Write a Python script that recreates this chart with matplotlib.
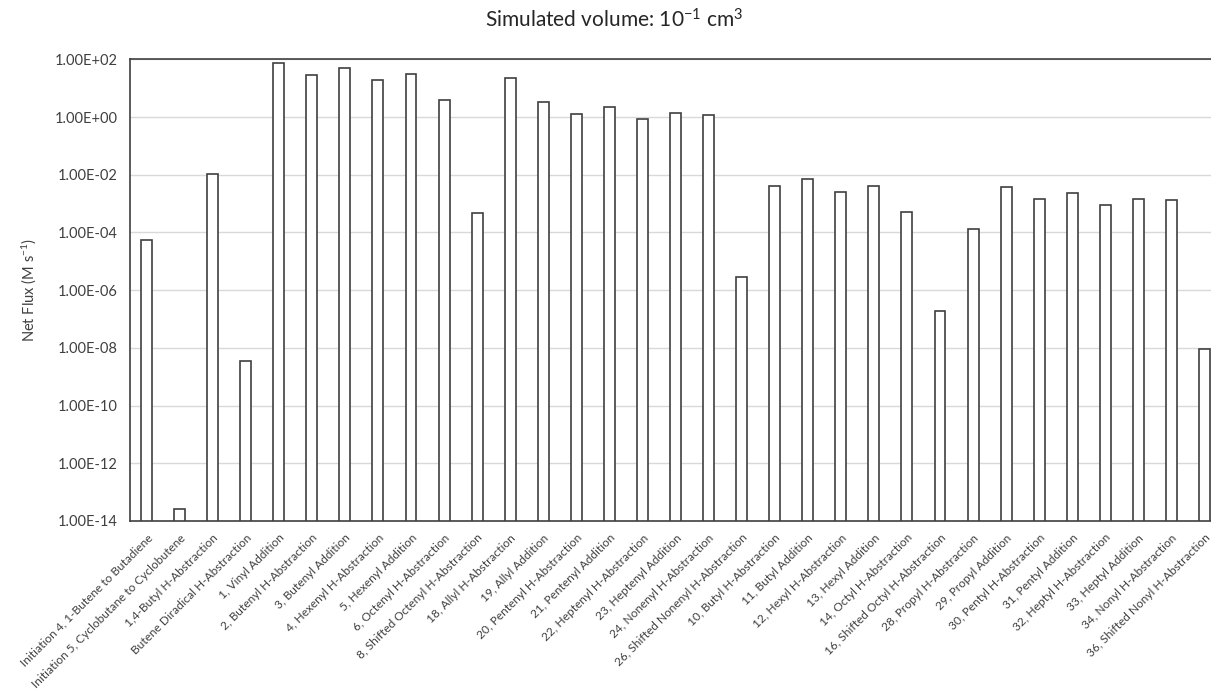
import matplotlib
matplotlib.use("Agg")
import matplotlib.pyplot as plt
import numpy as np

plt.rcParams['font.family'] = ['Lato', 'DejaVu Sans']
plt.rcParams['mathtext.default'] = 'regular'

categories = [
    "Initiation 4, 1-Butene to Butadiene",
    "Initiation 5, Cyclobutane to Cyclobutene",
    "1,4-Butyl H-Abstraction",
    "Butene Diradical H-Abstraction",
    "1, Vinyl Addition",
    "2, Butenyl H-Abstraction",
    "3, Butenyl Addition",
    "4, Hexenyl H-Abstraction",
    "5, Hexenyl Addition",
    "6, Octenyl H-Abstraction",
    "8, Shifted Octenyl H-Abstraction",
    "18, Allyl H-Abstraction",
    "19, Allyl Addition",
    "20, Pentenyl H-Abstraction",
    "21, Pentenyl Addition",
    "22, Heptenyl H-Abstraction",
    "23, Heptenyl Addition",
    "24, Nonenyl H-Abstraction",
    "26, Shifted Nonenyl H-Abstraction",
    "10, Butyl H-Abstraction",
    "11, Butyl Addition",
    "12, Hexyl H-Abstraction",
    "13, Hexyl Addition",
    "14, Octyl H-Abstraction",
    "16, Shifted Octyl H-Abstraction",
    "28, Propyl H-Abstraction",
    "29, Propyl Addition",
    "30, Pentyl H-Abstraction",
    "31, Pentyl Addition",
    "32, Heptyl H-Abstraction",
    "33, Heptyl Addition",
    "34, Nonyl H-Abstraction",
    "36, Shifted Nonyl H-Abstraction",
]

net_flux = [
    5.5e-5, 1.7e-14, 1.1e-2, 3.6e-9, 76, 29, 49, 19, 32, 4.0, 4.6e-4,
    23, 3.4, 1.3, 2.2, 0.83, 1.38, 1.17, 2.9e-6, 4.2e-3, 6.9e-3, 2.6e-3,
    4.2e-3, 5.2e-4, 1.85e-7, 1.3e-4, 3.8e-3, 1.4e-3, 2.3e-3, 8.7e-4,
    1.4e-3, 1.3e-3, 9.3e-9,
]

yticks = [1e2, 1e0, 1e-2, 1e-4, 1e-6, 1e-8, 1e-10, 1e-12, 1e-14]
ytick_labels = ["1.00E+02", "1.00E+00", "1.00E-02", "1.00E-04", "1.00E-06",
                "1.00E-08", "1.00E-10", "1.00E-12", "1.00E-14"]

W, H = 1211, 694
fig = plt.figure(figsize=(W / 100, H / 100), dpi=100)
left, right, top, bottom = 130, 1221, 59.3, 521
ax = fig.add_axes([left / W, (H - bottom) / H, (right - left) / W, (bottom - top) / H])

x = np.arange(len(categories))
ax.bar(x, net_flux, width=0.33, bottom=1e-14, color='white', edgecolor='#404040',
       linewidth=1.2, zorder=3)
ax.set_yscale('log')
ax.set_ylim(1e-14, 1e2)
ax.set_xlim(-0.5, len(categories) - 0.5)
ax.set_yticks(yticks)
ax.set_yticklabels(ytick_labels, fontsize=10.5, color='#404040')
ax.yaxis.set_minor_locator(matplotlib.ticker.NullLocator())
ax.set_xticks(x)
ax.set_xticklabels(categories, rotation=45, ha='right', rotation_mode='anchor',
                   fontsize=8.6, color='#404040')
ax.tick_params(axis='y', length=0, pad=9)
ax.tick_params(axis='x', length=0, pad=8)
ax.grid(axis='y', color='#d9d9d9', linewidth=1, zorder=0)
for s in ['left', 'bottom', 'top']:
    ax.spines[s].set_color('#404040')
    ax.spines[s].set_linewidth(1.2)
ax.spines['right'].set_visible(False)

ax.set_ylabel("Net Flux (M s$^{-1}$)", fontsize=10.5, color='#404040', labelpad=12)
fig.text(614 / W, 1 - 20 / H, "Simulated volume: 10$^{-1}$ cm$^{3}$", ha='center',
         va='center', fontsize=15, color='#262626')

fig.savefig("out.png", dpi=100)
